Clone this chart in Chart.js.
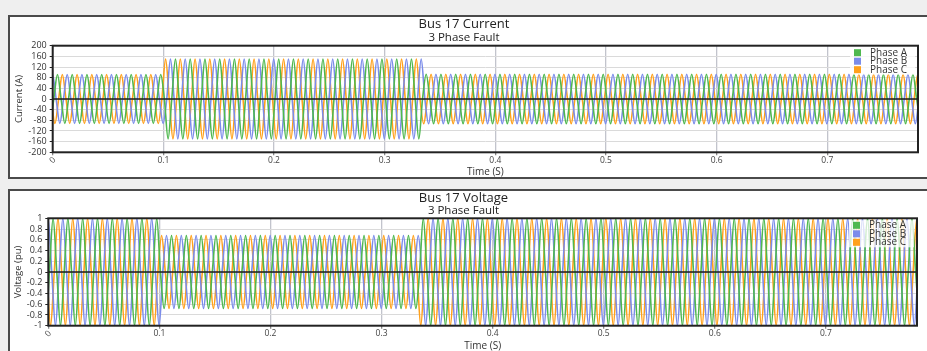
<!DOCTYPE html>
<html>
<head>
<meta charset="utf-8">
<title>Bus 17 Current / Voltage - 3 Phase Fault</title>
<script src="https://cdn.jsdelivr.net/npm/chart.js@4.4.1/dist/chart.umd.min.js"></script>
<style>
  html, body { margin: 0; padding: 0; }
  body { width: 927px; height: 351px; overflow: hidden; background: #efefef; position: relative; }
  .frame { position: absolute; left: 8px; width: 940px; border: 2px solid #4a4a4a; background: #fff; }
  #frame-current { top: 15px; height: 160px; }
  #frame-voltage { top: 189px; height: 200px; }
  canvas { position: absolute; left: 10px; }
  #current-chart { top: 17px; }
  #voltage-chart { top: 191px; }
</style>
</head>
<body>
<div class="frame" id="frame-current"></div>
<div class="frame" id="frame-voltage"></div>
<canvas id="current-chart" width="917" height="160"></canvas>
<canvas id="voltage-chart" width="917" height="160"></canvas>
<script>
// Bus 17 current and voltage through a 3 phase fault: two stacked line charts.

const PHASE_NAMES = ["Phase A", "Phase B", "Phase C"];
const PHASE_COLORS = ["#4fb84f", "#7b8cea", "#ffa11c"];

// first positive crest of each phase (s) and crest-to-crest spacing
const phasePeakTimes = [0.0043, 0.0131, 0.0087];
const wavePeriod = 0.01333;
const faultTimes = [0.1, 0.3333];      // fault applied, fault cleared
const timeRange = [0, 0.782];
const timeStep = 0.1;

// crest height before, during and after the fault
const currentPeaks = [92, 150, 93];
const voltagePeaks = [1, 0.68, 1];

// y axis: min, max, step
const currentTicks = [-200, 200, 40];
const voltageTicks = [-1, 1, 0.2];

Chart.defaults.font.family = "'Open Sans', sans-serif";
Chart.defaults.color = "#444";

// crests and zero crossings of one phase; the line's own curve fills the rest
function buildWave(peakTime, peaks) {
  const quarter = wavePeriod / 4;
  const swing = [1, 0, -1, 0];
  const points = [];
  let k = Math.floor((timeRange[0] - peakTime) / quarter) - 1;
  while (true) {
    const t = peakTime + k * quarter;
    if (t > timeRange[1] + quarter) break;
    const seg = t < faultTimes[0] ? 0 : (t < faultTimes[1] ? 1 : 2);
    points.push({ x: t, y: swing[((k % 4) + 4) % 4] * peaks[seg] });
    k++;
  }
  return points;
}

const framePlugin = {
  id: "frame",
  afterDatasetsDraw(chart) {
    const a = chart.chartArea;
    const ctx = chart.ctx;
    const y0 = chart.scales.y.getPixelForValue(0);
    ctx.save();
    // zero line over the traces
    ctx.strokeStyle = "#1c1c1c";
    ctx.lineWidth = 1.5;
    ctx.beginPath();
    ctx.moveTo(a.left, y0);
    ctx.lineTo(a.right, y0);
    ctx.stroke();
    // plot box
    ctx.lineWidth = 2;
    ctx.strokeStyle = "#222";
    ctx.strokeRect(a.left, a.top, a.right - a.left, a.bottom - a.top);

    // legend inside the top right corner
    ctx.fillStyle = "rgba(255,255,255,0.75)";
    ctx.fillRect(a.right - 68, a.top + 2, 65, 27);
    ctx.font = "10px 'Open Sans', sans-serif";
    ctx.textBaseline = "middle";
    ctx.textAlign = "left";
    chart.data.datasets.forEach(function (ds, i) {
      const cy = a.top + 7 + i * 8.5;
      ctx.fillStyle = ds.borderColor;
      ctx.fillRect(a.right - 64, cy - 3.5, 7, 7);
      ctx.fillStyle = "#333";
      ctx.fillText(ds.label, a.right - 48, cy);
    });

    // the first time label sits tilted
    const x0 = chart.scales.x.getPixelForValue(0);
    ctx.translate(x0, a.bottom + 8);
    ctx.rotate(-Math.PI / 4);
    ctx.font = "8.5px 'Open Sans', sans-serif";
    ctx.textAlign = "center";
    ctx.fillStyle = "#444";
    ctx.fillText("0", 0, 0);
    ctx.restore();
  }
};

function makeChart(canvasId, title, yTitle, peaks, ticks, fit) {
  const datasets = PHASE_NAMES.map(function (name, i) {
    return {
      label: name,
      data: buildWave(phasePeakTimes[i], peaks),
      borderColor: PHASE_COLORS[i],
      borderWidth: 1.6,
      pointRadius: 0,
      fill: false,
      cubicInterpolationMode: "monotone"
    };
  });

  return new Chart(document.getElementById(canvasId), {
    type: "line",
    data: { datasets: datasets },
    plugins: [framePlugin],
    options: {
      responsive: false,
      animation: false,
      events: [],
      layout: { padding: { left: 0, right: fit.right, top: 0, bottom: 0 } },
      plugins: {
        legend: { display: false },
        tooltip: { enabled: false },
        title: {
          display: true, text: title, color: "#222",
          font: { size: 13, weight: "normal", lineHeight: 1.1 },
          padding: { top: 0, bottom: 0 }
        },
        subtitle: {
          display: true, text: "3 Phase Fault", color: "#222",
          font: { size: 11.5, weight: "normal", lineHeight: 1.0 },
          padding: fit.subPad
        }
      },
      scales: {
        x: {
          type: "linear",
          min: timeRange[0], max: timeRange[1],
          afterFit: function (scale) { scale.height = fit.xHeight; },
          border: { display: false },
          grid: { color: "#c2c4cc", lineWidth: 1.3, tickLength: 3, tickColor: "#888" },
          ticks: {
            stepSize: timeStep, includeBounds: false, maxRotation: 0, padding: 0,
            font: { size: 8.5 },
            callback: function (v) { return v === 0 ? "" : v.toFixed(1); }
          },
          title: { display: true, text: "Time (S)", color: "#333", font: { size: 10, lineHeight: 1.0 }, padding: { top: 0, bottom: 0 } }
        },
        y: {
          min: ticks[0], max: ticks[1],
          afterFit: function (scale) { scale.width = fit.yWidth; },
          border: { display: false },
          grid: { color: "#dadada", lineWidth: 1, tickLength: 3, tickColor: "#222" },
          ticks: {
            stepSize: ticks[2], padding: 3, autoSkip: false, font: { size: 9 }, color: "#333",
            callback: function (v) { return String(Number(v.toFixed(2))); }
          },
          title: {
            display: true, text: yTitle, color: "#333",
            font: { family: "'Liberation Sans Narrow', 'Open Sans', sans-serif", size: 9.5 },
            padding: { top: fit.yTitlePad, bottom: 0 }
          }
        }
      }
    }
  });
}

makeChart("current-chart", "Bus 17 Current", "Current (A)", currentPeaks, currentTicks,
  { right: 9, yWidth: 42.7, xHeight: 24.7, yTitlePad: 3.6, subPad: { top: 0.25, bottom: 2.65 } });
makeChart("voltage-chart", "Bus 17 Voltage", "Voltage (pu)", voltagePeaks, voltageTicks,
  { right: 10, yWidth: 38.3, xHeight: 25.3, yTitlePad: 2.6, subPad: { top: 0, bottom: 1.5 } });
</script>
</body>
</html>
